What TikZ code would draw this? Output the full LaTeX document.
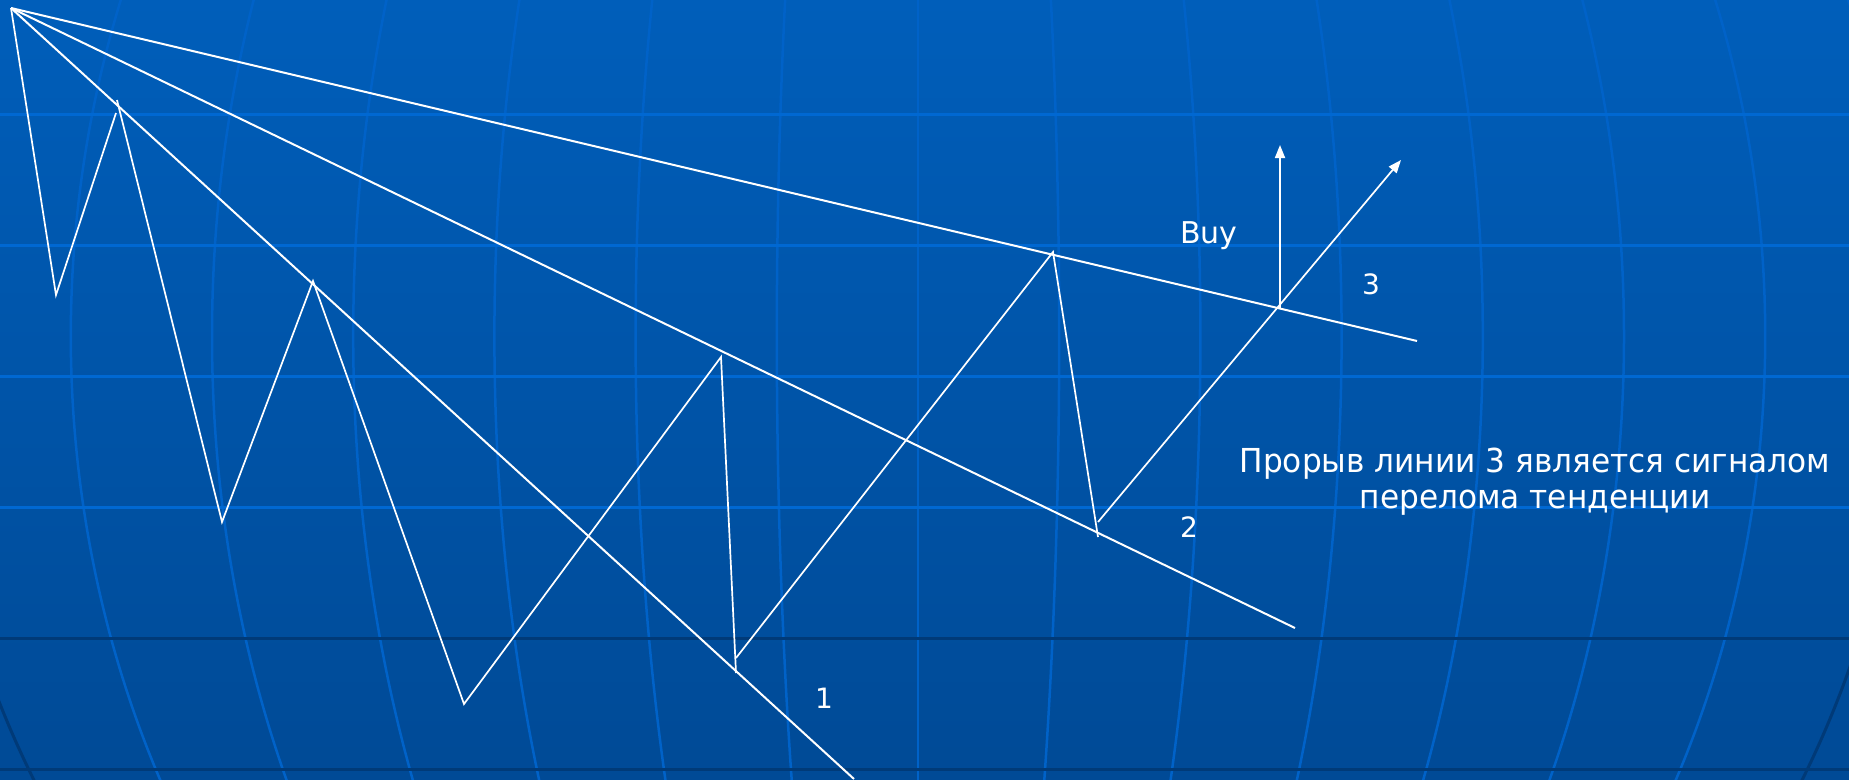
\documentclass[tikz,border=0pt]{standalone}
\usepackage{fontspec}
\setmainfont{DejaVu Sans}
\newfontfamily\capfont{DejaVu Sans}[FakeStretch=0.945]
\usetikzlibrary{arrows.meta}
\definecolor{bgtop}{RGB}{0,94,186}
\definecolor{bgbot}{RGB}{0,74,150}
\definecolor{gridlight}{RGB}{0,104,210}
\definecolor{gridmer}{RGB}{0,98,200}
\definecolor{griddark}{RGB}{0,58,120}
\begin{document}
\begin{tikzpicture}[x=1pt,y=-1pt,
  trend/.style={white, line width=2pt},
  zig/.style={white, line width=1.7pt},
  arr/.style={-{Triangle[width=10pt,length=13pt]}},
  lbl/.style={white, font=\fontsize{28}{34}\selectfont, inner sep=0pt},
  maintext/.style={white, font=\capfont\fontsize{33}{36}\selectfont, align=center, inner sep=0pt},
  hlight/.style={gridlight, line width=3pt},
  hdark/.style={griddark, line width=3pt},
  merlight/.style={gridmer, line width=2.5pt},
  merdark/.style={griddark, line width=3pt}]
\path[use as bounding box] (0,0) rectangle (1849,779);
\shade[top color=bgtop, bottom color=bgbot] (0,0) rectangle (1849,779);
\begin{scope}
  \clip (0,0) rectangle (1849,779);
  \foreach \k in {-6,...,6}
    \draw[merlight] plot[domain=-10:790, samples=40, smooth, variable=\t]
      ({918+141.2*(\k)*sqrt(1-((\t-336)/993)^2)},\t);
  \foreach \k in {-7,7} {
    \draw[merlight] plot[domain=-10:336, samples=20, smooth, variable=\t]
      ({918+141.2*(\k)*sqrt(1-((\t-336)/993)^2)},\t);
    \draw[merdark] plot[domain=336:790, samples=30, smooth, variable=\t]
      ({918+141.2*(\k)*sqrt(1-((\t-336)/993)^2)},\t);
  }
  \foreach \yy in {114,245,376,507}
    \draw[hlight] (0,\yy) -- (1849,\yy);
  \foreach \yy in {638,769}
    \draw[hdark] (0,\yy) -- (1849,\yy);
\end{scope}
% chart points
\coordinate (A) at (11,8);
\coordinate (P1) at (56,295);
\coordinate (P2a) at (116,113);
\coordinate (P2b) at (117,100);
\coordinate (P3) at (222,522);
\coordinate (P4) at (313,281);
\coordinate (P5) at (464,704);
\coordinate (P6) at (721,357);
\coordinate (P7a) at (736,673);
\coordinate (P7b) at (736,658);
\coordinate (P8) at (1053,252);
\coordinate (P9a) at (1098,537);
\coordinate (P9b) at (1098,522);
\coordinate (T1) at (1401,160);
\coordinate (X) at (1280,308);
\coordinate (T2) at (1280,145);
\coordinate (L1) at (854,779);
\coordinate (L2) at (1295,628);
\coordinate (L3) at (1417,341);
\begin{scope}
  \clip (0,0) rectangle (1849,779);
  \draw[trend] (A) -- (L1);
  \draw[trend] (A) -- (L2);
  \draw[trend] (A) -- (L3);
  \draw[zig] (A) -- (P1) -- (P2a);
  \draw[zig] (P2b) -- (P3) -- (P4) -- (P5) -- (P6) -- (P7a);
  \draw[zig] (P7b) -- (P8) -- (P9a);
  \draw[zig, arr] (P9b) -- (T1);
  \draw[zig, arr] (X) -- (T2);
\end{scope}
\node[lbl, font=\fontsize{30}{34}\selectfont, anchor=base west] (buy) at (1180,243) {Buy};
\node[lbl] (n3) at (1371,284) {3};
\node[lbl] (n2) at (1189,527) {2};
\node[lbl] (n1) at (824,698) {1};
\node[maintext, anchor=base] (txt) at (1535,508) {Прорыв линии 3 является сигналом\\перелома тенденции};
\end{tikzpicture}
\end{document}
